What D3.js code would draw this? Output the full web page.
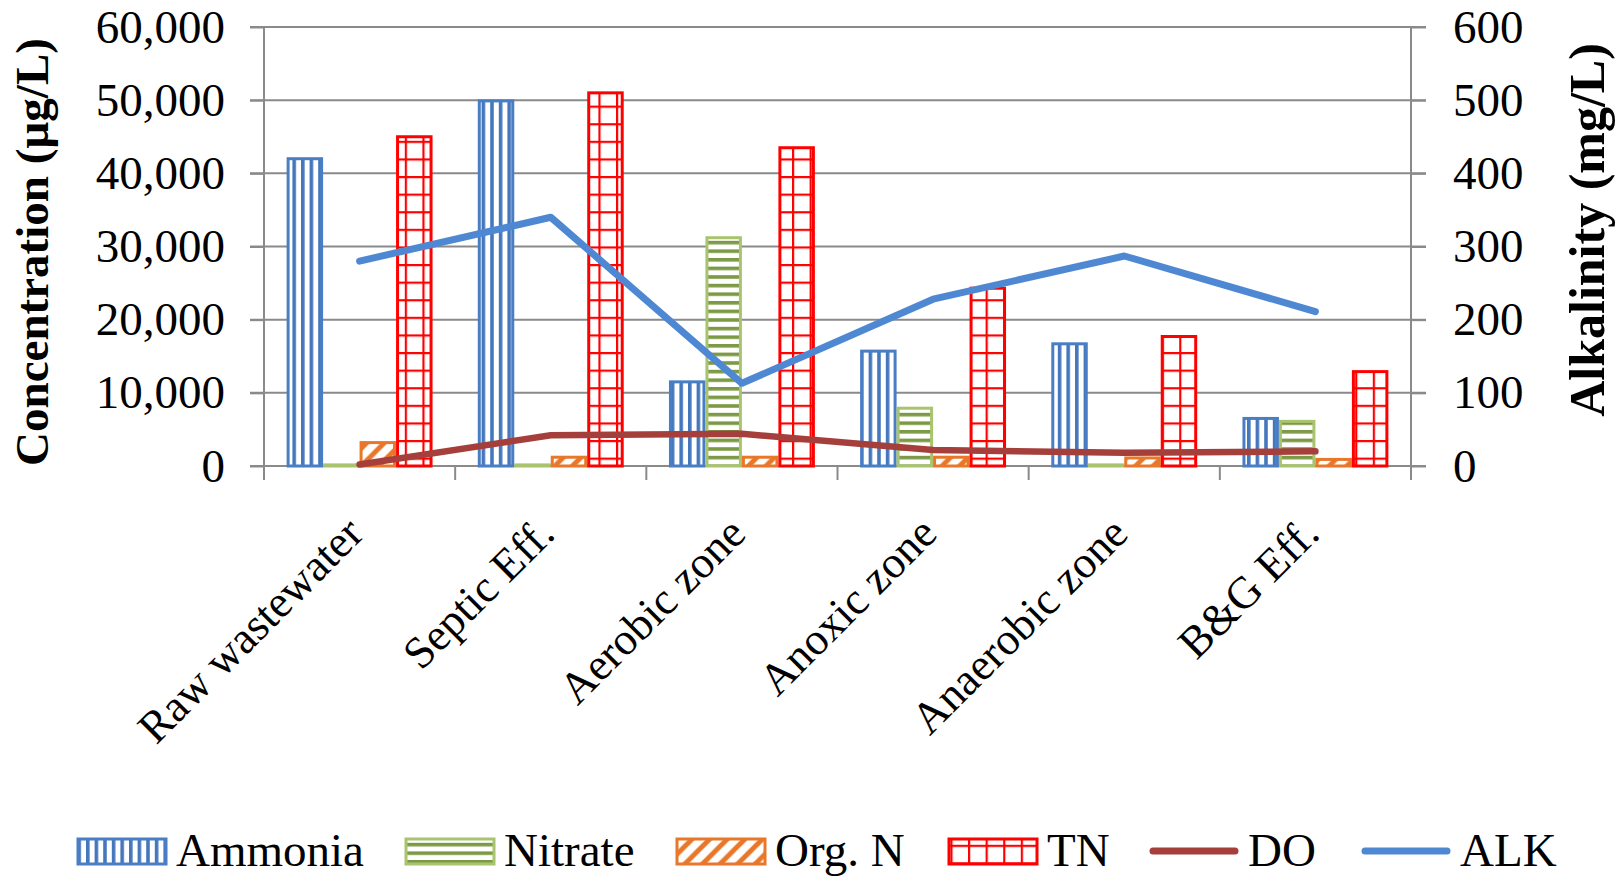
<!DOCTYPE html>
<html>
<head>
<meta charset="utf-8">
<script src="https://cdn.jsdelivr.net/npm/d3@7"></script>
<style>
  html, body { margin: 0; padding: 0; background: #fff; }
  svg { display: block; }
  text { font-family: "Liberation Serif", "Times New Roman", serif; fill: #000; }
</style>
</head>
<body>
<svg id="chart" width="1619" height="876"></svg>
<script>
// ---------------- data ----------------
const categories = ["Raw wastewater", "Septic Eff.", "Aerobic zone", "Anoxic zone", "Anaerobic zone", "B&G Eff."];
const barSeries = ["Ammonia", "Nitrate", "Org. N", "TN"];
const ammonia = [42000, 49900, 11500, 15700, 16700, 6500];
const nitrate = [150, 150, 31200, 7900, 150, 6100];
const orgN    = [3200, 1200, 1200, 1200, 1100, 900];
const tn      = [45000, 51000, 43500, 24300, 17700, 12900];
const doVals  = [2, 42, 44, 22, 18, 20];
const alk     = [280, 340, 113, 228, 287, 211];
const leftTicks  = [0, 10000, 20000, 30000, 40000, 50000, 60000];
const rightTicks = [0, 100, 200, 300, 400, 500, 600];

// ---------------- layout ----------------
const L = 264, R = 1411, T = 27, B = 466;
const svg = d3.select("#chart");
const defs = svg.append("defs");

const x = d3.scaleBand().domain(categories).range([L, R]).padding(0);
const xs = d3.scaleBand().domain(barSeries).range([0, x.bandwidth()]).paddingInner(0).paddingOuter(0.62);
const y0 = d3.scaleLinear().domain([0, 60000]).range([B, T]);
const y1 = d3.scaleLinear().domain([0, 600]).range([B, T]);

// ---------------- patterns ----------------
function pat(id, size, build) {
  const p = defs.append("pattern").attr("id", id).attr("patternUnits", "userSpaceOnUse")
    .attr("width", size).attr("height", size);
  p.append("rect").attr("width", size).attr("height", size).attr("fill", "#fff");
  build(p, size);
}
pat("pAmm", 8.6, (p, s) => p.append("rect").attr("x", 0).attr("y", 0).attr("width", 3.6).attr("height", s).attr("fill", "#4577bd"));
pat("pNit", 8.6, (p, s) => p.append("rect").attr("x", 0).attr("y", 0).attr("width", s).attr("height", 3.6).attr("fill", "#7c9a45"));
pat("pOrg", 17.6, (p, s) => {
  p.append("path").attr("d", `M0,${s} L${s},0 M${-s/2},${s/2} L${s/2},${-s/2} M${s/2},${s*1.5} L${s*1.5},${s/2}`)
    .attr("stroke", "#e8772a").attr("stroke-width", 5);
});
pat("pTN", 17.6, (p, s) => {
  p.append("rect").attr("x", 0).attr("y", 0).attr("width", 2.2).attr("height", s).attr("fill", "#ff0000");
  p.append("rect").attr("x", 0).attr("y", 0).attr("width", s).attr("height", 2.2).attr("fill", "#ff0000");
});

const styles = {
  "Ammonia": { fill: "url(#pAmm)", stroke: "#4a7ec4" },
  "Nitrate": { fill: "url(#pNit)", stroke: "#a9c46e" },
  "Org. N":  { fill: "url(#pOrg)", stroke: "#e8772a" },
  "TN":      { fill: "url(#pTN)",  stroke: "#ff0000" }
};
const seriesData = { "Ammonia": ammonia, "Nitrate": nitrate, "Org. N": orgN, "TN": tn };

// ---------------- grid & axes ----------------
const gridColor = "#8a8a8a";
const grid = svg.append("g");
grid.selectAll("line").data(leftTicks).join("line")
  .attr("x1", L - 14).attr("x2", R + 15)
  .attr("y1", d => y0(d)).attr("y2", d => y0(d))
  .attr("stroke", gridColor).attr("stroke-width", 2);

// left axis
const leftAxis = svg.append("g").attr("transform", `translate(${L},0)`)
  .call(d3.axisLeft(y0).tickValues(leftTicks).tickFormat(d3.format(",")).tickSize(14).tickPadding(25));
leftAxis.select(".domain").remove();
leftAxis.selectAll("line").attr("stroke", gridColor).attr("stroke-width", 2);
leftAxis.selectAll("text").attr("font-size", 47).attr("font-family", "Liberation Serif");

// right axis
const rightAxis = svg.append("g").attr("transform", `translate(${R},0)`)
  .call(d3.axisRight(y1).tickValues(rightTicks).tickSize(15).tickPadding(27));
rightAxis.select(".domain").remove();
rightAxis.selectAll("line").attr("stroke", gridColor).attr("stroke-width", 2);
rightAxis.selectAll("text").attr("font-size", 47).attr("font-family", "Liberation Serif");

// vertical axis lines
svg.append("line").attr("x1", L).attr("x2", L).attr("y1", T).attr("y2", B + 14)
  .attr("stroke", gridColor).attr("stroke-width", 2);
svg.append("line").attr("x1", R).attr("x2", R).attr("y1", T).attr("y2", B + 14)
  .attr("stroke", gridColor).attr("stroke-width", 2);

// category boundary ticks
const bounds = categories.map(c => x(c)).slice(1);
svg.append("g").selectAll("line").data(bounds).join("line")
  .attr("x1", d => d).attr("x2", d => d).attr("y1", B).attr("y2", B + 14)
  .attr("stroke", gridColor).attr("stroke-width", 2);

// ---------------- bars ----------------
const barG = svg.append("g");
barSeries.forEach(s => {
  barG.append("g").selectAll("rect").data(categories).join("rect")
    .attr("x", c => x(c) + xs(s) + 1.5)
    .attr("width", xs.bandwidth() - 3)
    .attr("y", (c, i) => y0(seriesData[s][i]))
    .attr("height", (c, i) => B - y0(seriesData[s][i]))
    .attr("fill", styles[s].fill)
    .attr("stroke", styles[s].stroke)
    .attr("stroke-width", 3);
});

// ---------------- lines ----------------
const cx = c => x(c) + x.bandwidth() / 2;
const lineGen = d3.line().x((d, i) => cx(categories[i])).y(d => y1(d));
svg.append("path").datum(doVals).attr("d", lineGen)
  .attr("fill", "none").attr("stroke", "#a53f3c").attr("stroke-width", 6.5)
  .attr("stroke-linejoin", "round").attr("stroke-linecap", "round");
svg.append("path").datum(alk).attr("d", lineGen)
  .attr("fill", "none").attr("stroke", "#4f88d2").attr("stroke-width", 7)
  .attr("stroke-linejoin", "round").attr("stroke-linecap", "round");

// ---------------- x labels ----------------
svg.append("g").selectAll("text").data(categories).join("text")
  .attr("transform", c => `translate(${cx(c) + 6},${B + 70}) rotate(-45)`)
  .attr("text-anchor", "end")
  .attr("font-size", 45)
  .text(c => c);

// ---------------- axis titles ----------------
svg.append("text")
  .attr("transform", `translate(48,252) rotate(-90)`)
  .attr("text-anchor", "middle").attr("font-size", 47).attr("font-weight", "bold")
  .text("Concentration (µg/L)");
svg.append("text")
  .attr("transform", `translate(1604,230) rotate(-90)`)
  .attr("text-anchor", "middle").attr("font-size", 50).attr("font-weight", "bold")
  .text("Alkalinity (mg/L)");

// ---------------- legend ----------------
const legendItems = [
  { name: "Ammonia", type: "bar", x: 77 },
  { name: "Nitrate", type: "bar", x: 405 },
  { name: "Org. N",  type: "bar", x: 676 },
  { name: "TN",      type: "bar", x: 948 },
  { name: "DO",      type: "line", x: 1149, color: "#a53f3c" },
  { name: "ALK",     type: "line", x: 1361, color: "#4f88d2" }
];
const LY = 851;
const lg = svg.append("g");
legendItems.forEach(it => {
  if (it.type === "bar") {
    lg.append("rect").attr("x", it.x + 1).attr("y", LY - 12).attr("width", 88).attr("height", 25)
      .attr("fill", styles[it.name].fill).attr("stroke", styles[it.name].stroke).attr("stroke-width", 3);
  } else {
    lg.append("line").attr("x1", it.x + 4).attr("x2", it.x + 86).attr("y1", LY).attr("y2", LY)
      .attr("stroke", it.color).attr("stroke-width", 7).attr("stroke-linecap", "round");
  }
  lg.append("text").attr("x", it.x + 99).attr("y", LY + 15).attr("font-size", 47).text(it.name);
});
</script>
</body>
</html>
